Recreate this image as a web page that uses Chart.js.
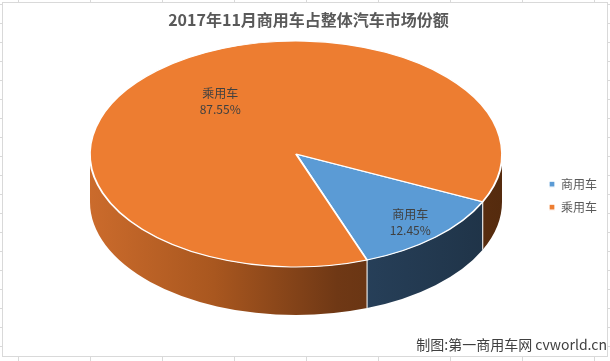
<!DOCTYPE html>
<html><head><meta charset="utf-8">
<script src="https://cdn.jsdelivr.net/npm/chart.js@4.4.0/dist/chart.umd.min.js"></script>
<style>html,body{margin:0;padding:0;background:#fff}#wrap{width:610px;height:361px;position:relative}canvas{display:block}</style>
</head><body><div id="wrap"><canvas id="c" width="610" height="361"></canvas></div>
<script>
const chartTitle = '2017年11月商用车占整体汽车市场份额';
const categories = ['商用车', '乘用车'];
const shares = [12.45, 87.55];
const shareLabels = ['12.45%', '87.55%'];
const sourceNote = '制图:第一商用车网 cvworld.cn';

const FONT = '"Noto Sans CJK SC", "Noto Sans", sans-serif';
const topColors = ['#5b9bd5', '#ed7d31'];
const GEO = {cx: 296, cy: 154, rx: 206, ry: 113, depth: 48};
const LABEL_POS = [{frac: 0.82, off: 0}, {frac: 0.59, off: 4}];

function P(t, dy) { return [GEO.cx + GEO.rx * Math.cos(t), GEO.cy + (dy || 0) + GEO.ry * Math.sin(t)]; }
function frontSegments(a, b) {
  const segs = [];
  for (let k = -2; k <= 2; k++) {
    const lo = k * 2 * Math.PI, hi = lo + Math.PI;
    const s = Math.max(a, lo), e = Math.min(b, hi);
    if (e > s + 1e-6) segs.push([s, e]);
  }
  return segs;
}
function sideFill(ctx, i) {
  if (i === 0) {
    const g = ctx.createLinearGradient(355, 0, 492, 0);
    g.addColorStop(0, '#27405a');
    g.addColorStop(1, '#1f3347');
    return g;
  }
  const g = ctx.createLinearGradient(GEO.cx - GEO.rx, 0, GEO.cx + GEO.rx, 0);
  g.addColorStop(0, '#cb6b2c');
  g.addColorStop(0.3, '#a9571f');
  g.addColorStop(0.6, '#6f3815');
  g.addColorStop(1, '#552b0e');
  return g;
}

const pie3d = {
  id: 'pie3d',
  beforeDatasetsDraw(chart) {
    const ctx = chart.ctx;
    const arcs = chart.getDatasetMeta(0).data;
    const D = GEO.depth;
    ctx.save();
    arcs.forEach((arc, i) => {
      frontSegments(arc.startAngle, arc.endAngle).forEach(([s, e]) => {
        ctx.beginPath();
        ctx.ellipse(GEO.cx, GEO.cy, GEO.rx, GEO.ry, 0, s, e, false);
        ctx.ellipse(GEO.cx, GEO.cy + D, GEO.rx, GEO.ry, 0, e, s, true);
        ctx.closePath();
        ctx.fillStyle = sideFill(ctx, i);
        ctx.fill();
      });
    });
    ctx.strokeStyle = 'rgba(255,255,255,0.85)';
    ctx.lineWidth = 1.2;
    arcs.forEach(arc => {
      const t = arc.startAngle;
      if (Math.sin(t) > 0) {
        const a = P(t), b = P(t, D);
        ctx.beginPath(); ctx.moveTo(a[0], a[1]); ctx.lineTo(b[0], b[1]); ctx.stroke();
      }
    });
    ctx.restore();
    const a0 = arcs[0];
    const r = a0.outerRadius;
    ctx.save();
    ctx.translate(GEO.cx, GEO.cy);
    ctx.scale(GEO.rx / r, GEO.ry / r);
    ctx.translate(-a0.x, -a0.y);
  },
  afterDatasetsDraw(chart) {
    const ctx = chart.ctx;
    ctx.restore();
    const arcs = chart.getDatasetMeta(0).data;
    ctx.save();
    ctx.fillStyle = '#404040';
    ctx.font = '12px ' + FONT;
    ctx.textAlign = 'center';
    ctx.textBaseline = 'middle';
    arcs.forEach((arc, i) => {
      const lp = LABEL_POS[i];
      const mid = (arc.startAngle + arc.endAngle) / 2 + lp.off * Math.PI / 180;
      const x = GEO.cx + GEO.rx * lp.frac * Math.cos(mid);
      const y = GEO.cy + GEO.ry * lp.frac * Math.sin(mid);
      ctx.fillText(categories[i], x, y - 8);
      ctx.fillText(shareLabels[i], x, y + 8);
    });
    ctx.restore();
  },
  afterDraw(chart) {
    const ctx = chart.ctx;
    ctx.save();
    ctx.strokeStyle = '#d9d9d9';
    ctx.lineWidth = 1;
    ctx.strokeRect(2.5, 2.5, 605, 354);
    ctx.beginPath();
    for (let x = 18; x < 610; x += 72) {
      ctx.moveTo(x + 0.5, 0); ctx.lineTo(x + 0.5, 2);
      ctx.moveTo(x + 0.5, 357); ctx.lineTo(x + 0.5, 361);
    }
    for (let y = 4; y < 361; y += 19) {
      ctx.moveTo(0, y + 0.5); ctx.lineTo(2, y + 0.5);
      ctx.moveTo(608, y + 0.5); ctx.lineTo(610, y + 0.5);
    }
    ctx.stroke();
    ctx.restore();
  }
};

new Chart(document.getElementById('c'), {
  type: 'pie',
  data: {
    labels: categories,
    datasets: [{
      data: shares,
      backgroundColor: topColors,
      borderColor: '#ffffff',
      borderWidth: 1.3,
      clip: false
    }]
  },
  options: {
    responsive: false,
    animation: false,
    events: [],
    rotation: 115,
    layout: {padding: {left: 10, right: 3, top: 0, bottom: 0}},
    plugins: {
      title: {
        display: true,
        text: chartTitle,
        color: '#595959',
        font: {family: FONT, size: 16, weight: 'bold'},
        padding: {top: 10, bottom: 30}
      },
      subtitle: {
        display: true,
        text: sourceNote,
        position: 'bottom',
        align: 'end',
        color: '#404040',
        font: {family: FONT, size: 14},
        padding: {top: 4, bottom: 8}
      },
      legend: {
        position: 'right',
        fullSize: false,
        labels: {
          boxWidth: 6,
          boxHeight: 6,
          padding: 11,
          color: '#595959',
          font: {family: FONT, size: 12}
        }
      },
      tooltip: {enabled: false}
    }
  },
  plugins: [pie3d]
});
</script>
</body></html>
